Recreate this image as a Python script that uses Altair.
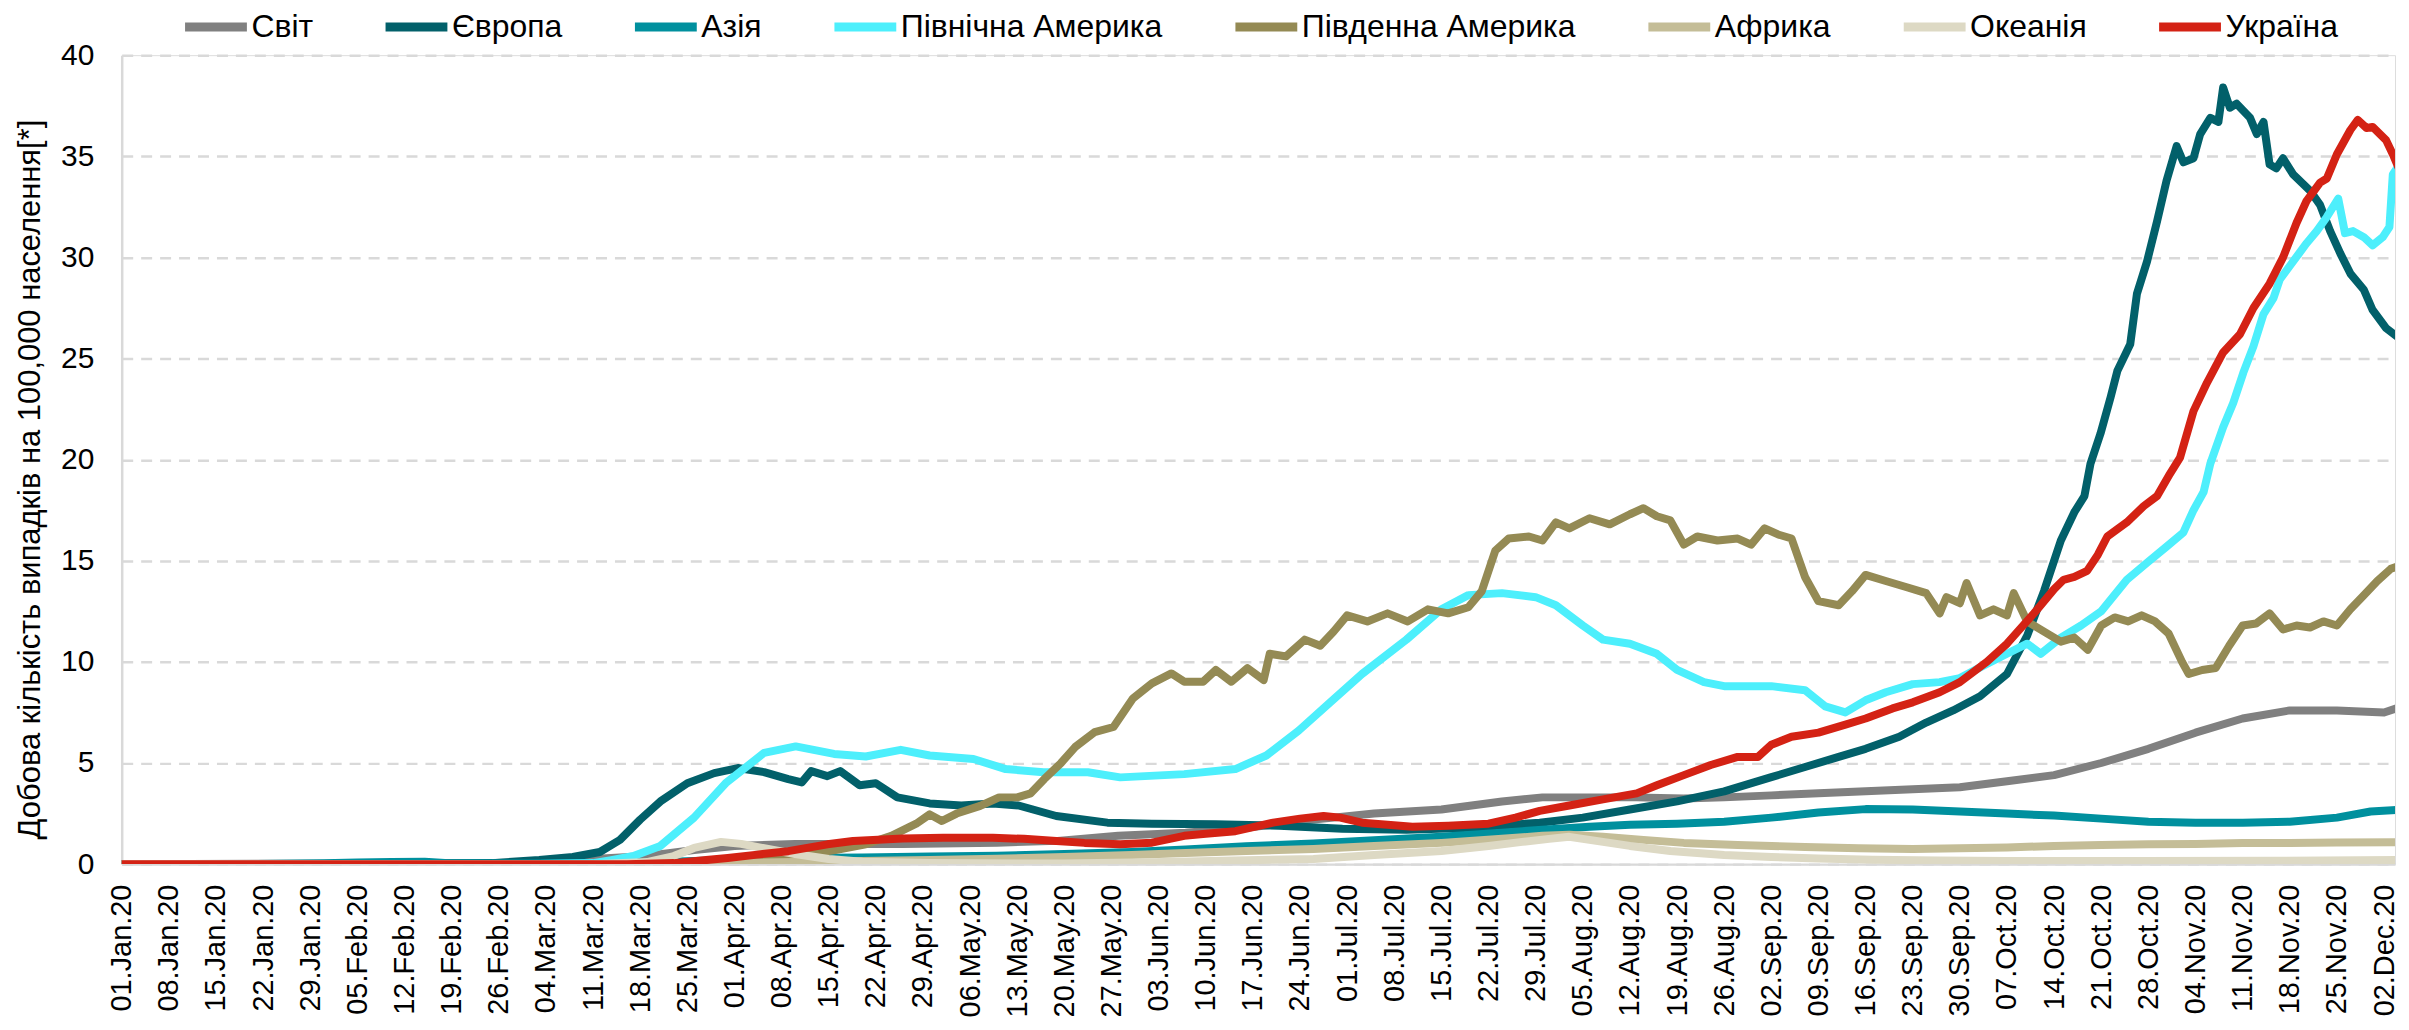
import altair as alt
import pandas as pd

SERIES = ["Світ", "Європа", "Азія", "Північна Америка", "Південна Америка", "Африка", "Океанія", "Україна"]
COLORS = ["#808080", "#02606A", "#00909E", "#4DEFFC", "#948A54", "#C4BD97", "#DDD9C4", "#D42214"]

# day index (0 = 01.Jan.2020) and daily cases per 100,000
WORLD_DAYS = [0, 30, 45, 55, 62, 70, 78, 85, 91, 100, 116, 130, 139, 148, 158, 167, 177, 186, 196, 205, 211, 217, 225, 232, 238, 245, 252, 259, 266, 273, 280, 287, 294, 301, 308, 315, 322, 329, 336, 338.7]
WORLD_VALS = [0, 0.02, 0.05, 0.05, 0.1, 0.25, 0.4, 0.7, 0.9, 1.0, 1.0, 1.06, 1.15, 1.4, 1.55, 1.8, 2.2, 2.5, 2.7, 3.1, 3.3, 3.3, 3.3, 3.25, 3.3, 3.4, 3.5, 3.6, 3.7, 3.8, 4.1, 4.4, 5.0, 5.7, 6.5, 7.2, 7.6, 7.6, 7.5, 7.8]

EUROPE_DAYS = [0, 40, 55, 62, 67, 71, 74, 77, 80, 84, 88, 91.5, 95.4, 99, 101, 102.4, 104.8, 106.7, 109.6, 112, 115.2, 120, 124.7, 129.4, 133.2, 138.8, 146.4, 153, 162.5, 171.9, 181.3, 190.8, 200.3, 210.6, 217, 224, 231, 238, 245, 250, 255, 259, 264, 268, 272, 276, 280, 283, 285.5, 288, 290, 291.5, 292.4, 293.9, 295.4, 296.4, 298.3, 299.3, 300.8, 302.3, 303.7, 305.2, 306.2, 307.7, 308.7, 310.2, 311.4, 312.1, 313.1, 314.1, 316.1, 317.1, 318.1, 319, 320, 321, 322.5, 325, 326.5, 328, 329.5, 331, 333, 334.3, 336.3, 338.7]
EUROPE_VALS = [0, 0, 0.05, 0.2, 0.35, 0.6, 1.2, 2.2, 3.1, 4.0, 4.5, 4.75, 4.55, 4.2, 4.04, 4.6, 4.35, 4.6, 3.9, 4.0, 3.3, 3.0, 2.9, 3.0, 2.9, 2.38, 2.05, 2.0, 1.97, 1.9, 1.75, 1.7, 1.8, 2.05, 2.3, 2.7, 3.1, 3.6, 4.3, 4.8, 5.3, 5.7, 6.3, 7.0, 7.6, 8.3, 9.4, 11.3, 13.5, 16.0, 17.4, 18.2, 19.8, 21.3, 23.1, 24.4, 25.7, 28.2, 29.8, 31.8, 33.8, 35.5, 34.7, 34.9, 36.1, 36.9, 36.7, 38.4, 37.4, 37.6, 36.9, 36.1, 36.7, 34.6, 34.4, 34.9, 34.1, 33.3, 32.6, 31.3, 30.2, 29.2, 28.4, 27.4, 26.5, 25.9]

ASIA_DAYS = [0, 20, 30, 35, 40, 45, 48, 52, 60, 70, 80, 90, 100, 110, 120, 130, 140, 150, 158, 167, 177, 186, 196, 205, 211, 218, 224, 231, 238, 245, 252, 259, 266, 273, 280, 287, 294, 301, 308, 315, 322, 329, 334, 338.7]
ASIA_VALS = [0, 0.01, 0.04, 0.08, 0.1, 0.12, 0.06, 0.04, 0.03, 0.05, 0.1, 0.2, 0.3, 0.33, 0.38, 0.42, 0.5, 0.6, 0.72, 0.88, 1.02, 1.18, 1.35, 1.55, 1.7, 1.85, 1.95, 2.0, 2.1, 2.3, 2.55, 2.72, 2.7, 2.6, 2.5, 2.4, 2.25, 2.1, 2.05, 2.05, 2.1, 2.3, 2.6, 2.7]

NAMER_DAYS = [0, 60, 70, 72.7, 76, 80, 85, 89.7, 95.4, 100.1, 105.8, 110.5, 115.7, 120, 126.5, 131.3, 136.9, 143.5, 148.3, 157.8, 165.4, 170, 174.8, 179.5, 184.2, 190.8, 196, 200, 205, 210, 213, 217, 220, 224, 228, 231, 235, 238, 245, 250, 253, 256, 259, 262, 266, 270, 273, 277, 280, 283, 285, 288, 291, 294, 297.8, 300.8, 303.7, 306.2, 307.7, 309.2, 310.2, 312.1, 313.6, 315.1, 316.6, 318.1, 319.6, 320.5, 322.5, 324.5, 326, 327.5, 329.2, 330.2, 331.4, 333, 334.3, 335.8, 336.8, 337.3, 338.7]
NAMER_VALS = [0, 0, 0.05, 0.2, 0.4, 0.9, 2.3, 4.0, 5.5, 5.82, 5.45, 5.32, 5.65, 5.37, 5.2, 4.7, 4.54, 4.54, 4.29, 4.45, 4.7, 5.37, 6.6, 8.0, 9.4, 11.1, 12.6, 13.3, 13.4, 13.2, 12.8, 11.8, 11.1, 10.9, 10.4, 9.6, 9.0, 8.8, 8.8, 8.6, 7.8, 7.5, 8.1, 8.5, 8.9, 9.0, 9.2, 9.9, 10.4, 10.9, 10.4, 11.2, 11.8, 12.5, 14.06, 14.9, 15.7, 16.4, 17.5, 18.4, 19.8, 21.6, 22.8, 24.3, 25.6, 27.2, 28.0, 28.9, 29.8, 30.7, 31.3, 32.0, 32.9, 31.2, 31.3, 31.0, 30.6, 31.0, 31.5, 34.1, 34.8]

SAMER_DAYS = [0, 78, 83, 90, 100, 106, 110.5, 114.3, 118, 120, 121.8, 124, 127.5, 130.3, 133, 135, 137, 139.5, 141.6, 144.5, 147.3, 150.2, 153, 155.9, 157.8, 160.6, 162.5, 164.8, 167.2, 169.6, 170.5, 172.9, 175.7, 178, 180, 182, 185, 188, 191, 194, 197, 200, 202, 204, 206, 209, 211, 213, 215, 218, 221, 224, 226, 228, 230, 232, 234, 237, 240, 242, 244, 246, 248, 250, 252, 255, 257, 259, 262, 265, 268, 270, 271, 273, 274, 276, 278, 280, 281, 283, 286, 288, 290, 292, 294, 296, 298, 300, 302, 304, 306, 307, 309, 311, 313, 315, 317, 319, 321, 323, 325, 327, 329, 331, 333, 335, 337, 338.7]
SAMER_VALS = [0, 0, 0.02, 0.1, 0.4, 0.7, 0.98, 1.4, 2.0, 2.46, 2.13, 2.5, 2.88, 3.3, 3.3, 3.5, 4.2, 5.0, 5.79, 6.53, 6.78, 8.2, 8.94, 9.43, 9.02, 9.02, 9.6, 9.02, 9.69, 9.1, 10.4, 10.27, 11.1, 10.8, 11.5, 12.3, 12.0, 12.4, 12.0, 12.6, 12.4, 12.7, 13.5, 15.5, 16.1, 16.2, 16.0, 16.9, 16.6, 17.1, 16.8, 17.3, 17.6, 17.2, 17.0, 15.8, 16.2, 16.0, 16.1, 15.8, 16.6, 16.3, 16.1, 14.2, 13.0, 12.8, 13.5, 14.3, 14.0, 13.7, 13.4, 12.4, 13.2, 12.9, 13.9, 12.3, 12.6, 12.3, 13.4, 12.0, 11.4, 11.0, 11.2, 10.6, 11.8, 12.2, 12.0, 12.3, 12.0, 11.4, 10.0, 9.4, 9.6, 9.7, 10.8, 11.8, 11.9, 12.4, 11.6, 11.8, 11.7, 12.0, 11.8, 12.6, 13.3, 14.0, 14.6, 14.8]

AFRICA_DAYS = [0, 70, 80, 90, 100, 110, 120, 130, 140, 150, 158, 167, 177, 186, 196, 205, 211, 215, 220, 226, 232, 240, 250, 258, 266, 273, 280, 287, 294, 301, 308, 315, 322, 329, 338.7]
AFRICA_VALS = [0, 0, 0.02, 0.05, 0.1, 0.15, 0.2, 0.27, 0.35, 0.45, 0.55, 0.65, 0.75, 0.9, 1.05, 1.25, 1.4, 1.45, 1.35, 1.2, 1.05, 0.95, 0.85, 0.78, 0.75, 0.78, 0.82, 0.9, 0.95, 0.98, 1.0, 1.05, 1.05, 1.07, 1.08]

OCEANIA_DAYS = [0, 70, 78, 82, 85, 89, 92, 96, 100, 105, 110, 120, 140, 155, 165, 177, 186, 196, 203, 208, 212, 215, 218, 224, 230, 238, 245, 252, 260, 270, 280, 300, 320, 338.7]
OCEANIA_VALS = [0, 0, 0.1, 0.4, 0.8, 1.1, 1.0, 0.75, 0.5, 0.25, 0.12, 0.05, 0.03, 0.1, 0.18, 0.25, 0.45, 0.65, 0.9, 1.1, 1.25, 1.35, 1.2, 0.9, 0.65, 0.45, 0.35, 0.28, 0.22, 0.18, 0.15, 0.15, 0.17, 0.2]

UKRAINE_DAYS = [0, 75, 82, 86.8, 90, 94.4, 99, 104.8, 108.6, 116, 122, 129.4, 134, 138.8, 143, 148.3, 153, 157.8, 161, 165.4, 171, 175, 178.5, 181, 184.2, 188, 191.7, 197, 203, 207, 210.6, 215, 220, 225, 228, 232, 236, 240, 243, 245, 248, 252, 256, 259, 263, 266, 270, 273, 277, 280, 284, 287, 288.4, 290, 291.9, 293.5, 294.9, 297.8, 300.3, 302.3, 304.2, 305.7, 307.7, 309.7, 312.1, 314.6, 316.6, 319, 321, 323, 324.5, 326.5, 327.5, 329, 331, 332.1, 333.4, 334.3, 336.3, 337.3, 338.7]
UKRAINE_VALS = [0, 0, 0.05, 0.2, 0.3, 0.47, 0.64, 0.98, 1.14, 1.27, 1.3, 1.3, 1.25, 1.14, 1.05, 0.98, 1.06, 1.4, 1.5, 1.63, 2.05, 2.25, 2.38, 2.3, 2.05, 1.95, 1.85, 1.9, 2.0, 2.3, 2.63, 2.9, 3.2, 3.5, 3.9, 4.4, 4.9, 5.3, 5.3, 5.9, 6.3, 6.5, 6.9, 7.2, 7.7, 8.0, 8.5, 9.0, 10.0, 10.9, 12.4, 13.6, 14.06, 14.2, 14.5, 15.3, 16.2, 16.9, 17.7, 18.2, 19.3, 20.1, 22.4, 23.8, 25.3, 26.2, 27.5, 28.7, 30.0, 31.7, 32.8, 33.7, 33.9, 35.1, 36.3, 36.8, 36.4, 36.45, 35.8, 35.1, 34.0]

TICK_DAYS = list(range(0, 337, 7))
Y_TICKS = [0, 5, 10, 15, 20, 25, 30, 35, 40]
Y_TITLE = "Добова кількість випадків на 100,000 населення[*]"

data_sets = [
    (WORLD_DAYS, WORLD_VALS), (EUROPE_DAYS, EUROPE_VALS), (ASIA_DAYS, ASIA_VALS),
    (NAMER_DAYS, NAMER_VALS), (SAMER_DAYS, SAMER_VALS), (AFRICA_DAYS, AFRICA_VALS),
    (OCEANIA_DAYS, OCEANIA_VALS), (UKRAINE_DAYS, UKRAINE_VALS),
]
rows = []
for name, (ds, vs) in zip(SERIES, data_sets):
    for d, v in zip(ds, vs):
        rows.append({"day": d, "value": v, "series": name})
df = pd.DataFrame(rows)

FONT = "Liberation Sans"
GRID = "#d9d9d9"
PLOT_W = 2279
DAYS_SHOWN = PLOT_W / 6.75

x_enc = alt.X(
    "day:Q",
    scale=alt.Scale(domain=[0, DAYS_SHOWN], nice=False, zero=False),
    axis=alt.Axis(
        values=TICK_DAYS,
        labelExpr="timeFormat(datetime(2020, 0, 1 + datum.value), '%d.%b.%y')",
        labelAngle=-90, labelFont=FONT, labelFontSize=29, labelColor="black",
        labelPadding=20, labelOverlap=False, labelFlush=False, labelBound=False,
        ticks=False, grid=False, domainColor=GRID, domainWidth=2.5, title=None,
    ),
)
y_enc = alt.Y(
    "value:Q",
    scale=alt.Scale(domain=[0, 40], nice=False),
    axis=alt.Axis(
        values=Y_TICKS, labelFont=FONT, labelFontSize=30, labelColor="black",
        labelPadding=28, ticks=False, grid=True, gridColor=GRID, gridDash=[11, 8],
        gridWidth=2.5, domainColor=GRID, domainWidth=2.5,
        title=Y_TITLE, titleFont=FONT, titleFontSize=31, titleFontWeight="normal",
        titleColor="black", titlePadding=14, titleY=425,
    ),
)
color_enc = alt.Color(
    "series:N",
    scale=alt.Scale(domain=SERIES, range=COLORS),
    legend=alt.Legend(
        title=None, orient="none", direction="horizontal", legendX=59, legendY=-64,
        symbolType="stroke", symbolSize=3844, symbolStrokeWidth=9,
        labelFont=FONT, labelFontSize=32, labelColor="black", labelOffset=0,
        columnPadding=54, labelLimit=0,
    ),
)

layers = []
for s in SERIES:
    layers.append(
        alt.Chart(df).transform_filter(alt.datum.series == s)
        .mark_line(strokeWidth=8, strokeCap="round", strokeJoin="round", clip=True)
        .encode(x=x_enc, y=y_enc, color=color_enc)
    )

chart = alt.layer(*layers).properties(
    width=PLOT_W, height=811,
    autosize=alt.AutoSizeParams(type="none"),
    padding={"left": 114, "top": 46, "right": 6, "bottom": 157},
).configure_view(stroke=None).configure(background="white")

chart.save("out.html", embed_options={"renderer": "svg", "actions": False})
